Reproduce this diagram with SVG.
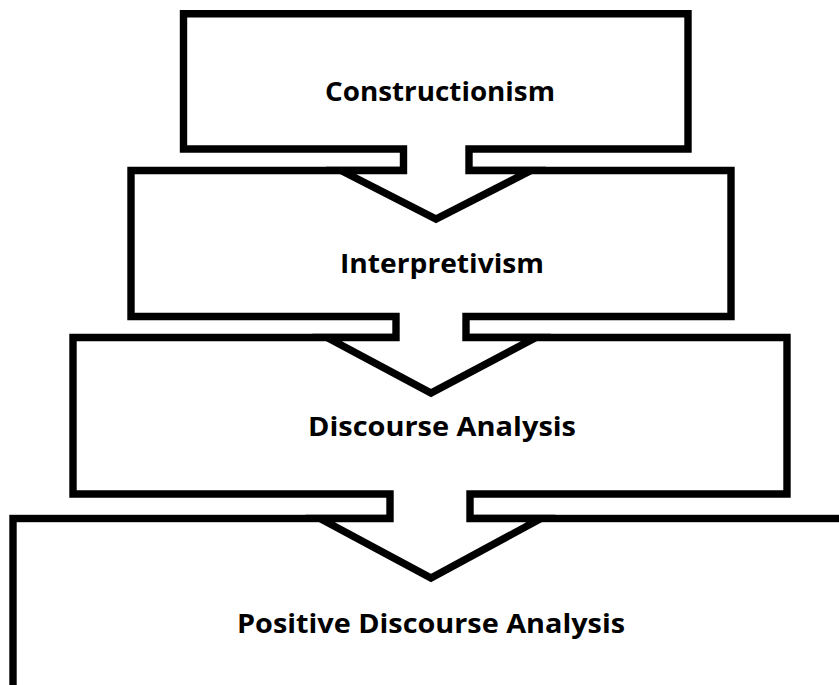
<svg xmlns="http://www.w3.org/2000/svg" width="839" height="685" viewBox="0 0 839 685">
  <style>
    .shape { fill: #ffffff; stroke: #000000; stroke-width: 7.4; stroke-linejoin: miter; stroke-miterlimit: 10; }
    .label { font-family: "Open Sans", "Liberation Sans", Arial, sans-serif; font-weight: 700; font-size: 27px; fill: #000000; text-anchor: middle; }
  </style>
  <rect width="839" height="685" fill="#ffffff"/>
  <g id="node-positive-discourse-analysis">
    <rect class="shape" x="13" y="518.5" width="900" height="300"/>
    <text class="label" x="431" y="633" textLength="388" lengthAdjust="spacingAndGlyphs">Positive Discourse Analysis</text>
  </g>
  <g id="node-discourse-analysis">
    <path class="shape" d="M73,337.5 H787 V494 H470 V518.5 H541 L431,578 L320,518.5 H390 V494 H73 Z"/>
    <text class="label" x="442" y="436" textLength="268" lengthAdjust="spacingAndGlyphs">Discourse Analysis</text>
  </g>
  <g id="node-interpretivism">
    <path class="shape" d="M131,170.5 H731 V316.5 H466 V337.5 H536 L431,393 L327,337.5 H396 V316.5 H131 Z"/>
    <text class="label" x="442" y="273" textLength="204" lengthAdjust="spacingAndGlyphs">Interpretivism</text>
  </g>
  <g id="node-constructionism">
    <path class="shape" d="M183.5,13.7 H688 V149 H469 V170.5 H531 L436,219 L341,170.5 H403.5 V149 H183.5 Z"/>
    <text class="label" x="440" y="101" textLength="230" lengthAdjust="spacingAndGlyphs">Constructionism</text>
  </g>
  <g id="connectors"></g>
</svg>
